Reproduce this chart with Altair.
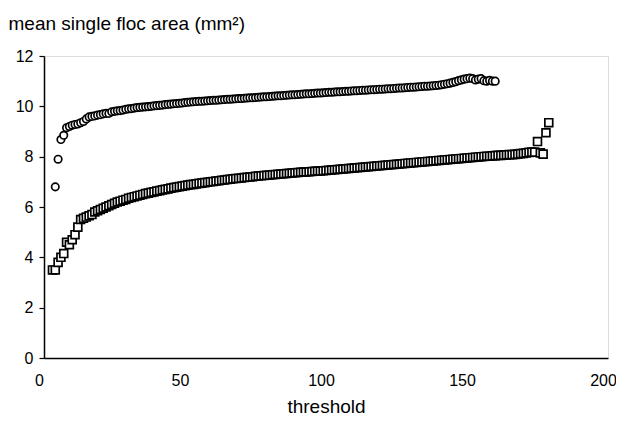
import altair as alt
import pandas as pd

# circles series: thresholds 4..160
circle_y = [
    6.8, 7.9, 8.68, 8.85, 9.15, 9.2, 9.25, 9.28, 9.3, 9.35,
    9.4, 9.5, 9.58, 9.6, 9.62, 9.65, 9.67, 9.7, 9.72, 9.72,
    9.78, 9.8, 9.82, 9.83, 9.85, 9.88, 9.9, 9.91, 9.93, 9.95,
    9.96, 9.97, 9.98, 9.99, 10.0, 10.02, 10.03, 10.04, 10.05, 10.07,
    10.08, 10.09, 10.1, 10.11, 10.12, 10.13, 10.15, 10.16, 10.17, 10.18,
    10.19, 10.2, 10.2, 10.21, 10.22, 10.23, 10.24, 10.24, 10.25, 10.26,
    10.27, 10.28, 10.28, 10.29, 10.3, 10.31, 10.31, 10.32, 10.33, 10.34,
    10.34, 10.35, 10.36, 10.37, 10.38, 10.38, 10.39, 10.4, 10.41, 10.42,
    10.42, 10.43, 10.44, 10.45, 10.46, 10.46, 10.47, 10.48, 10.49, 10.5,
    10.5, 10.51, 10.52, 10.53, 10.53, 10.54, 10.55, 10.56, 10.56, 10.57,
    10.58, 10.58, 10.59, 10.6, 10.6, 10.61, 10.62, 10.62, 10.63, 10.64,
    10.64, 10.65, 10.66, 10.66, 10.67, 10.68, 10.68, 10.69, 10.7, 10.7,
    10.71, 10.72, 10.73, 10.73, 10.74, 10.75, 10.76, 10.76, 10.77, 10.78,
    10.79, 10.8, 10.8, 10.81, 10.82, 10.83, 10.84, 10.86, 10.88, 10.9,
    10.92, 10.95, 10.98, 11.02, 11.05, 11.08, 11.1, 11.12, 11.1, 11.05,
    11.08, 11.1, 11.02, 11.0, 11.03, 11.0, 11.0,
]
circle_x = list(range(4, 4 + len(circle_y)))

# squares series: thresholds 3..179
square_y = [
    3.5, 3.5, 3.8, 4.0, 4.15, 4.6, 4.5, 4.7, 4.9, 5.2,
    5.5, 5.55, 5.6, 5.65, 5.7, 5.8, 5.85, 5.9, 5.95, 6.0,
    6.05, 6.1, 6.15, 6.2, 6.23, 6.27, 6.3, 6.35, 6.38, 6.41,
    6.44, 6.47, 6.5, 6.53, 6.55, 6.58, 6.6, 6.63, 6.65, 6.68,
    6.7, 6.72, 6.75, 6.77, 6.79, 6.81, 6.83, 6.85, 6.87, 6.89,
    6.9, 6.92, 6.94, 6.95, 6.97, 6.98, 7.0, 7.01, 7.03, 7.04,
    7.06, 7.07, 7.09, 7.1, 7.12, 7.13, 7.14, 7.15, 7.17, 7.18,
    7.19, 7.2, 7.22, 7.23, 7.24, 7.25, 7.26, 7.27, 7.28, 7.29,
    7.3, 7.31, 7.32, 7.33, 7.34, 7.35, 7.36, 7.37, 7.38, 7.39,
    7.39, 7.4, 7.41, 7.42, 7.43, 7.43, 7.44, 7.45, 7.46, 7.47,
    7.48, 7.49, 7.5, 7.51, 7.52, 7.53, 7.54, 7.55, 7.56, 7.57,
    7.58, 7.59, 7.6, 7.61, 7.62, 7.63, 7.64, 7.65, 7.66, 7.67,
    7.68, 7.69, 7.7, 7.71, 7.72, 7.73, 7.74, 7.75, 7.76, 7.77,
    7.78, 7.79, 7.8, 7.81, 7.82, 7.83, 7.84, 7.85, 7.86, 7.87,
    7.88, 7.89, 7.9, 7.91, 7.92, 7.93, 7.94, 7.95, 7.96, 7.97,
    7.98, 7.99, 8.0, 8.01, 8.02, 8.02, 8.03, 8.04, 8.05, 8.05,
    8.06, 8.07, 8.08, 8.08, 8.09, 8.1, 8.12, 8.13, 8.15, 8.17,
    8.18, 8.18, 8.6, 8.15, 8.1, 8.95, 9.35,
]
square_x = list(range(3, 3 + len(square_y)))

x_ticks = [0, 50, 100, 150, 200]
y_ticks = [0, 2, 4, 6, 8, 10, 12]

FONT = "Liberation Sans"

circles = pd.DataFrame({"threshold": circle_x, "area": circle_y})
squares = pd.DataFrame({"threshold": square_x, "area": square_y})

x_enc = alt.X(
    "threshold:Q",
    scale=alt.Scale(domain=[0, 200], nice=False, zero=False, padding=0),
    axis=alt.Axis(
        values=x_ticks, tickSize=0, labelPadding=14, labelOffset=-5, labelFlush=False,
        title="threshold", titlePadding=9, grid=False,
        domainColor="black", domainWidth=1.5,
        labelFont=FONT, labelFontSize=16, labelColor="black",
        titleFont=FONT, titleFontSize=19, titleFontWeight="normal", titleColor="black",
    ),
)
y_enc = alt.Y(
    "area:Q",
    scale=alt.Scale(domain=[0, 12], nice=False, padding=0),
    axis=alt.Axis(
        values=y_ticks, tickSize=5, tickColor="black", tickWidth=1.2, labelPadding=6,
        labelFlush=False, grid=False, domainColor="black", domainWidth=1.5,
        labelFont=FONT, labelFontSize=16, labelColor="black",
        title="mean single floc area (mm²)", titleAngle=0, titleAlign="left",
        titleBaseline="alphabetic", titleX=-36, titleY=-27,
        titleFont=FONT, titleFontSize=19, titleFontWeight="normal", titleColor="black",
    ),
)

sq_layer = alt.Chart(squares).mark_point(
    shape="square", filled=True, fill="white", stroke="black", strokeWidth=1.7,
    size=62, opacity=1,
).encode(x=x_enc, y=y_enc)

ci_layer = alt.Chart(circles).mark_point(
    shape="circle", filled=True, fill="white", stroke="black", strokeWidth=1.7,
    size=55, opacity=1,
).encode(x=x_enc, y=y_enc)

chart = alt.layer(sq_layer, ci_layer).properties(
    width=564, height=302,
    autosize=alt.AutoSizeParams(type="none"),
    padding={"left": 36, "top": 48, "right": 8, "bottom": 59},
).configure_view(stroke="black", strokeWidth=1.5).configure(background="white")

chart.save("out.html", embed_options={"renderer": "svg", "actions": False})
